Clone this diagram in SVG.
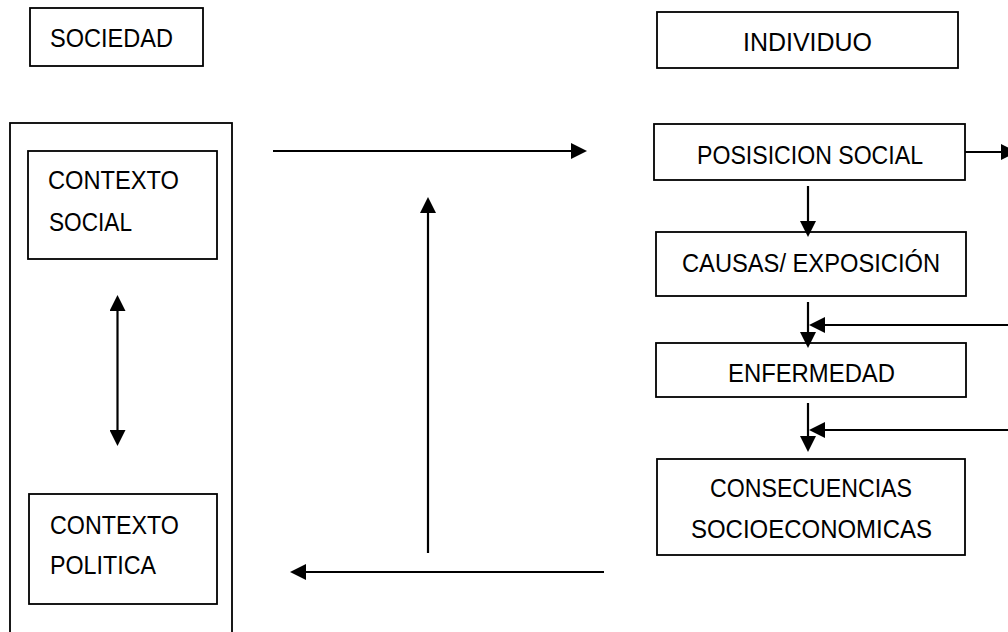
<svg xmlns="http://www.w3.org/2000/svg" width="1008" height="632" viewBox="0 0 1008 632">
  <style>
    .box { fill: #ffffff; stroke: #000000; stroke-width: 1.8; }
    .lbl { font-family: "Liberation Sans", Arial, sans-serif; font-size: 26px; fill: #000000; }
    .con { fill: none; stroke: #000000; stroke-width: 2.2; }
  </style>
  <defs>
    <marker id="ah" markerUnits="userSpaceOnUse" markerWidth="16" markerHeight="16" refX="12" refY="8" orient="auto-start-reverse" viewBox="0 0 16 16">
      <path d="M0,0 L16,8 L0,16 Z" fill="#000000"/>
    </marker>
  </defs>
  <rect width="1008" height="632" fill="#ffffff"/>

  <g id="sociedad">
    <rect class="box" x="30" y="8" width="173" height="58"/>
    <text class="lbl" x="50" y="47" textLength="123" lengthAdjust="spacingAndGlyphs">SOCIEDAD</text>
  </g>

  <g id="individuo">
    <rect class="box" x="657" y="12" width="301" height="56"/>
    <text class="lbl" x="743" y="50.5" textLength="129" lengthAdjust="spacingAndGlyphs">INDIVIDUO</text>
  </g>

  <g id="contenedor-sociedad">
    <rect class="box" x="10" y="123" width="222" height="530" fill="none"/>
  </g>

  <g id="contexto-social">
    <rect class="box" x="28" y="151" width="189" height="108"/>
    <text class="lbl" x="48" y="189" textLength="131" lengthAdjust="spacingAndGlyphs">CONTEXTO</text>
    <text class="lbl" x="49" y="231" textLength="83" lengthAdjust="spacingAndGlyphs">SOCIAL</text>
  </g>

  <g id="contexto-politica">
    <rect class="box" x="29" y="494" width="188" height="110"/>
    <text class="lbl" x="50" y="534" textLength="129" lengthAdjust="spacingAndGlyphs">CONTEXTO</text>
    <text class="lbl" x="50" y="574" textLength="106" lengthAdjust="spacingAndGlyphs">POLITICA</text>
  </g>

  <g id="posicion-social">
    <rect class="box" x="654" y="124" width="311" height="56"/>
    <text class="lbl" x="697" y="164" textLength="226" lengthAdjust="spacingAndGlyphs">POSISICION SOCIAL</text>
  </g>

  <g id="causas-exposicion">
    <rect class="box" x="656" y="232" width="310" height="64"/>
    <text class="lbl" x="682" y="272" textLength="258" lengthAdjust="spacingAndGlyphs">CAUSAS/ EXPOSICIÓN</text>
  </g>

  <g id="enfermedad">
    <rect class="box" x="656" y="343" width="310" height="54"/>
    <text class="lbl" x="728" y="381.5" textLength="167" lengthAdjust="spacingAndGlyphs">ENFERMEDAD</text>
  </g>

  <g id="consecuencias">
    <rect class="box" x="657" y="459" width="308" height="96"/>
    <text class="lbl" x="710" y="497" textLength="202" lengthAdjust="spacingAndGlyphs">CONSECUENCIAS</text>
    <text class="lbl" x="691" y="538" textLength="241" lengthAdjust="spacingAndGlyphs">SOCIOECONOMICAS</text>
  </g>

  <g id="connectors">
    <path class="con" d="M273,151 H583" marker-end="url(#ah)"/>
    <path class="con" d="M428,553 V201" marker-end="url(#ah)"/>
    <path class="con" d="M604,572 H294" marker-end="url(#ah)"/>
    <path class="con" d="M117.5,299 V442" marker-start="url(#ah)" marker-end="url(#ah)"/>
    <path class="con" d="M965,152 H1013" marker-end="url(#ah)"/>
    <path class="con" d="M808,186 V233" marker-end="url(#ah)"/>
    <path class="con" d="M808,302 V344" marker-end="url(#ah)"/>
    <path class="con" d="M1008,325 H813" marker-end="url(#ah)"/>
    <path class="con" d="M808,403 V448" marker-end="url(#ah)"/>
    <path class="con" d="M1008,430 H813" marker-end="url(#ah)"/>
  </g>
</svg>
